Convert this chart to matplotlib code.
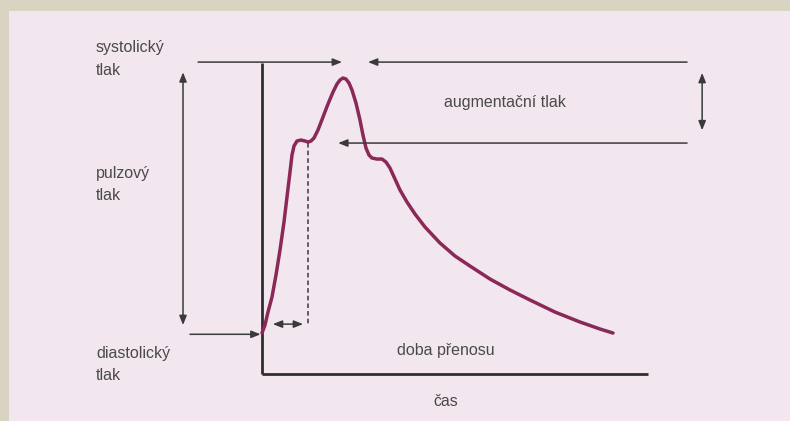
import numpy as np
import matplotlib.pyplot as plt
from matplotlib.patches import Rectangle

plt.rcParams['font.family'] = ['Liberation Sans', 'DejaVu Sans']

# pulse wave: time (s) and pressure (mmHg)
t = [0.0, 0.0085, 0.0171, 0.0285, 0.0399, 0.0513, 0.0627, 0.0712, 0.0798, 0.0855,
     0.0912, 0.0997, 0.1111, 0.1225, 0.1311, 0.1396, 0.1481, 0.1595, 0.1738, 0.1880,
     0.2023, 0.2137, 0.2222, 0.2308, 0.2393, 0.2479, 0.2564, 0.2678, 0.2792, 0.2877,
     0.2963, 0.3048, 0.3134, 0.3276, 0.3419, 0.3533, 0.3647, 0.3789, 0.3932, 0.4131,
     0.4359, 0.4644, 0.5071, 0.5499, 0.5926, 0.6496, 0.7066, 0.7635, 0.8348, 0.9060,
     0.9630, 1.0]
p = [80.0, 81.25, 83.29, 85.65, 89.10, 93.02, 97.41, 101.33, 105.25, 107.92,
     109.33, 110.12, 110.27, 110.12, 109.96, 110.12, 110.59, 111.84, 113.88, 115.92,
     117.80, 119.06, 119.69, 120.0, 119.84, 119.22, 118.12, 116.08, 113.41, 111.06,
     109.02, 107.92, 107.45, 107.29, 107.29, 106.82, 105.88, 104.16, 102.43, 100.55,
     98.67, 96.63, 94.12, 92.08, 90.51, 88.47, 86.75, 85.18, 83.29, 81.73,
     80.63, 80.0]

diastolic = 80.0
systolic = 120.0
inflection = 109.8      # first shoulder level
transit = 0.131         # time of the first shoulder (doba prenosu)

labels_left = ['systolický\ntlak', 'pulzový\ntlak', 'diastolický\ntlak']

# figure: 790x421 px, axes in data units over the whole figure
fig = plt.figure(figsize=(7.9, 4.21), dpi=100, facecolor='#d9d4c2')
ax = fig.add_axes([0, 0, 1, 1])
ax.set_xlim(-0.7464, 1.5043)
ax.set_ylim(66.2, 132.24)
ax.axis('off')
ax.add_patch(Rectangle((9 / 790, 0), 1, 410 / 421, transform=ax.transAxes,
                       facecolor='#f2e7ee', edgecolor='none', zorder=0))

ink = '#3a3a3a'
txt = '#4a4a4a'
curve_col = '#8b2858'

# axes of the diagram
ax.plot([0, 0], [73.6, 122.4], color='#2e2e2e', lw=2, solid_capstyle='butt')
ax.plot([0, 1.10], [73.6, 73.6], color='#2e2e2e', lw=2, solid_capstyle='butt')

# pressure curve
ax.plot(t, p, color=curve_col, lw=2.5, solid_joinstyle='round', solid_capstyle='round')

def arrow(x0, y0, x1, y1, style='-|>'):
    ax.annotate('', xy=(x1, y1), xytext=(x0, y0),
                arrowprops=dict(arrowstyle=style + ',head_length=0.55,head_width=0.22',
                                color=ink, lw=1.1, shrinkA=0, shrinkB=0))

# systolic level arrows pointing at the peak
arrow(-0.182, 122.5, 0.228, 122.5)
arrow(1.211, 122.5, 0.302, 122.5)
# augmentation level arrow
arrow(1.211, inflection, 0.217, inflection)
# augmentation pressure double arrow
arrow(1.254, 111.8, 1.254, 120.8, '<|-|>')
# pulse pressure double arrow
arrow(-0.225, 81.25, -0.225, 120.9, '<|-|>')
# diastolic arrow
arrow(-0.205, 79.8, -0.004, 79.8)
# transit time
arrow(0.031, 81.4, 0.117, 81.4, '<|-|>')
ax.plot([transit, transit], [inflection, 81.2], color=ink, lw=1.1, ls=(0, (3, 2)))

# texts
fs = 11.5
ax.text(-0.4729, 123.0, labels_left[0], ha='left', va='center', color=txt, fontsize=fs, linespacing=1.6)
ax.text(-0.4729, 103.35, labels_left[1], ha='left', va='center', color=txt, fontsize=fs, linespacing=1.6)
ax.text(-0.4729, 75.05, labels_left[2], ha='left', va='center', color=txt, fontsize=fs, linespacing=1.6)
ax.text(0.692, 116.2, 'augmentační tlak', ha='center', va='center', color=txt, fontsize=fs)
ax.text(0.524, 77.3, 'doba přenosu', ha='center', va='center', color=txt, fontsize=fs)
ax.text(0.524, 69.2, 'čas', ha='center', va='center', color=txt, fontsize=fs)

fig.savefig('out.png', dpi=100, facecolor=fig.get_facecolor())
